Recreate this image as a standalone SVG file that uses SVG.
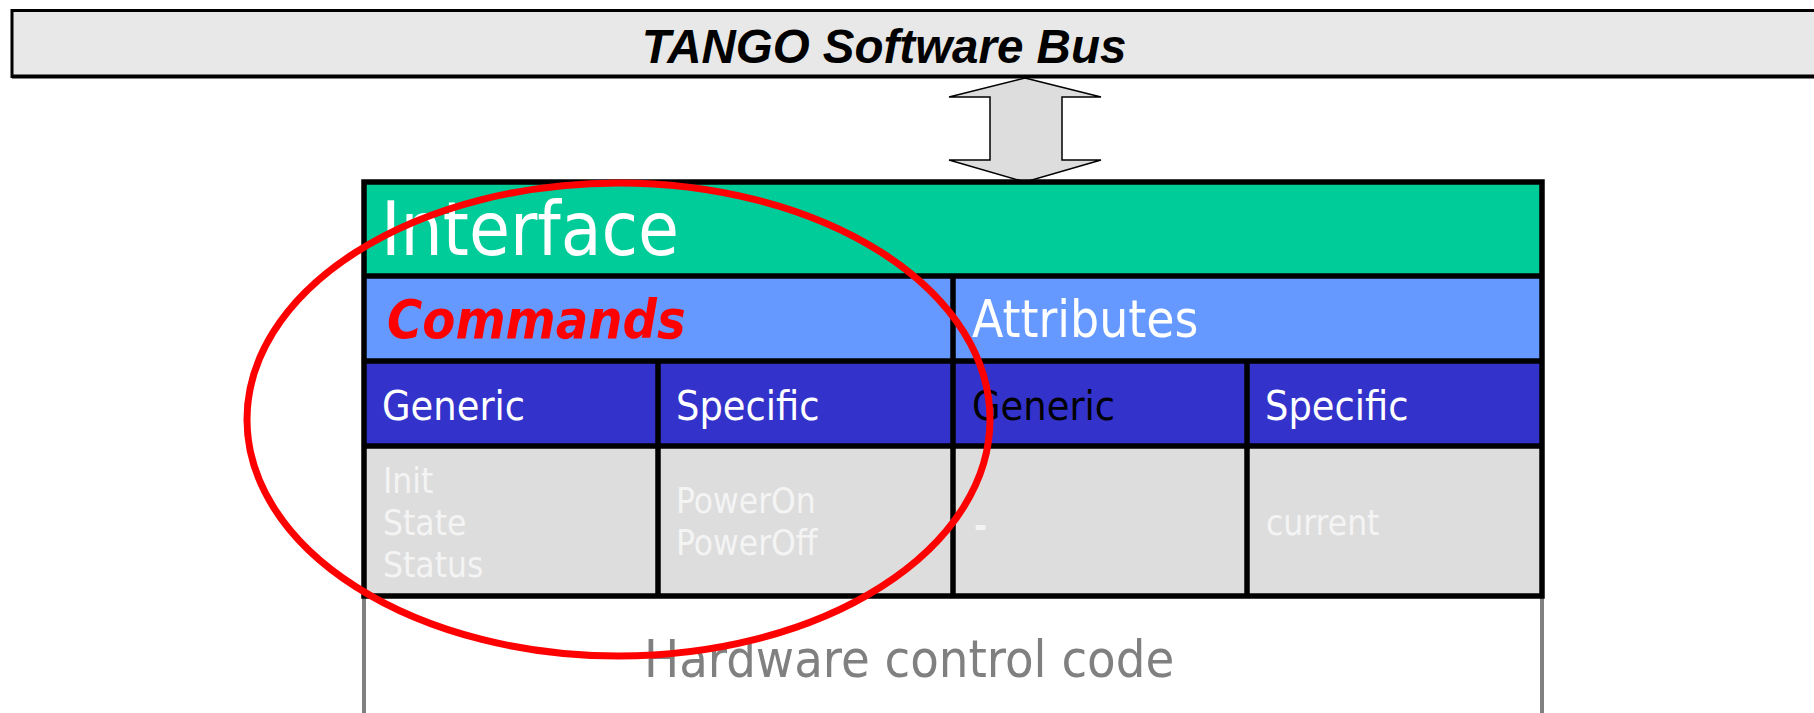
<svg xmlns="http://www.w3.org/2000/svg" width="1814" height="713" viewBox="0 0 1814 713">
<style>
.t{font-family:"DejaVu Sans Condensed","DejaVu Sans",sans-serif;font-stretch:condensed}
.w{fill:#ffffff}
.d{fill:#f4f4f4;font-size:35px}
.h{font-size:41px}
.ln{stroke:#000;stroke-width:5.5;fill:none}
</style>
<rect width="1814" height="713" fill="#ffffff"/>
<g id="bus">
<rect x="12" y="10.5" width="1810" height="66" fill="#e8e8e8" stroke="#000" stroke-width="3"/>
<line x1="12" y1="76.5" x2="1814" y2="76.5" stroke="#000" stroke-width="4"/>
<text x="884" y="63" text-anchor="middle" font-family="Liberation Sans, Arial, sans-serif" font-weight="bold" font-style="italic" font-size="47.5" fill="#000">TANGO Software Bus</text>
</g>
<g id="connectors">
<polygon points="1025,78 1101,97 1062,97 1062,160 1101,160 1025,182 949,160 990,160 990,97 949,97" fill="#dddddd" stroke="#000" stroke-width="1.5" stroke-linejoin="miter"/>
</g>
<g id="device">
<rect x="364" y="182" width="1178" height="94" fill="#00cc99"/>
<rect x="364" y="276" width="1178" height="85" fill="#6699ff"/>
<rect x="364" y="361" width="1178" height="85" fill="#3333cc"/>
<rect x="364" y="446" width="1178" height="150" fill="#dddddd"/>
<line x1="364" y1="596" x2="364" y2="713" stroke="#808080" stroke-width="4"/>
<line x1="1542" y1="596" x2="1542" y2="713" stroke="#808080" stroke-width="4"/>
<rect class="ln" x="364" y="182" width="1178" height="414"/>
<line class="ln" x1="364" y1="276" x2="1542" y2="276"/>
<line class="ln" x1="364" y1="361" x2="1542" y2="361"/>
<line class="ln" x1="364" y1="446" x2="1542" y2="446"/>
<line class="ln" x1="953" y1="276" x2="953" y2="596"/>
<line class="ln" x1="658" y1="361" x2="658" y2="596"/>
<line class="ln" x1="1247" y1="361" x2="1247" y2="596"/>
<text class="t w" x="381" y="255" font-size="74">Interface</text>
<text class="t" x="387" y="338" font-size="53.5" font-weight="bold" font-style="italic" fill="#ff0000">Commands</text>
<text class="t w" x="972" y="337" font-size="51">Attributes</text>
<text class="t w h" x="382" y="420">Generic</text>
<text class="t w h" x="676" y="420">Specific</text>
<text class="t h" x="972" y="420" fill="#000">Generic</text>
<text class="t w h" x="1265" y="420">Specific</text>
<text class="t d" x="383" y="493">Init</text>
<text class="t d" x="383" y="535">State</text>
<text class="t d" x="383" y="577">Status</text>
<text class="t d" x="676" y="513">PowerOn</text>
<text class="t d" x="676" y="555">PowerOff</text>
<text class="t d" x="974" y="538" font-weight="bold">-</text>
<text class="t d" x="1266" y="535">current</text>
<text class="t" x="644" y="677" font-size="52" fill="#808080">Hardware control code</text>
</g>
<g id="highlight">
<ellipse cx="618.5" cy="419.5" rx="371.5" ry="236.5" fill="none" stroke="#ff0000" stroke-width="7"/>
</g>
</svg>
